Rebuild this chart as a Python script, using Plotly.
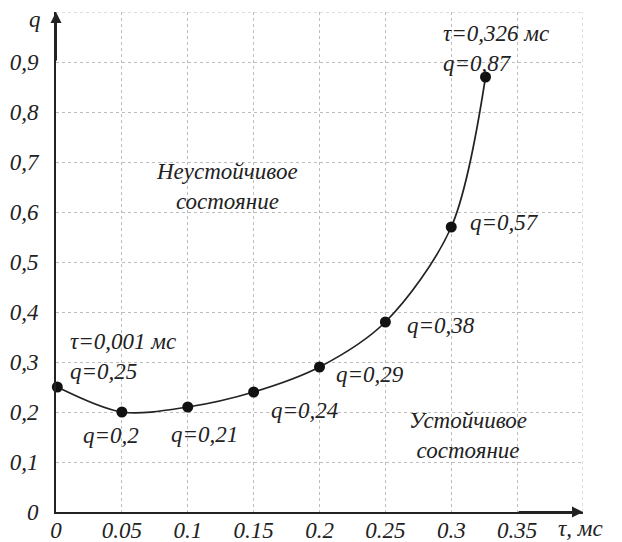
import plotly.graph_objects as go

# τ (мс) and q values of the stability boundary
tau = [0.001, 0.05, 0.1, 0.15, 0.2, 0.25, 0.3, 0.326]
q = [0.25, 0.2, 0.21, 0.24, 0.29, 0.38, 0.57, 0.87]

x_ticks = [0, 0.05, 0.1, 0.15, 0.2, 0.25, 0.3, 0.35]
x_tick_text = ["0", "0.05", "0.1", "0.15", "0.2", "0.25", "0.3", "0.35"]
y_ticks = [0, 0.1, 0.2, 0.3, 0.4, 0.5, 0.6, 0.7, 0.8, 0.9]
y_tick_text = ["0", "0,1", "0,2", "0,3", "0,4", "0,5", "0,6", "0,7", "0,8", "0,9"]

X_MAX = 0.4
Y_MAX = 1.0

FONT = "Liberation Serif"
INK = "#222222"
GRID = "#bdbdbd"
FS = 23


def fmt(v):
    return f"{v:g}".replace(".", ",")


fig = go.Figure()
fig.add_trace(go.Scatter(
    x=tau, y=q, mode="lines+markers",
    line=dict(shape="spline", smoothing=0.9, color=INK, width=1.7),
    marker=dict(size=11, color="#111111"),
    cliponaxis=False, hoverinfo="skip", showlegend=False,
))

# outer grid lines along the top and right edges of the grid
fig.add_shape(type="line", x0=0, x1=X_MAX, y0=Y_MAX, y1=Y_MAX, xref="x", yref="y",
              line=dict(color=GRID, width=1, dash="dot"), layer="below")
fig.add_shape(type="line", x0=X_MAX, x1=X_MAX, y0=0, y1=Y_MAX, xref="x", yref="y",
              line=dict(color=GRID, width=1, dash="dot"), layer="below")

ann_font = dict(family=FONT, size=FS, color=INK, style="italic")
annotations = []

# value labels beside the points: (index, xshift, yshift, anchor)
offsets = [
    (1, -11, -23, "center"),
    (2, 17, -27, "center"),
    (3, 15, -18, "left"),
    (4, 14, -7, "left"),
    (5, 20, -3, "left"),
    (6, 17, 5, "left"),
]
for i, dx, dy, anc in offsets:
    annotations.append(dict(
        x=tau[i], y=q[i], xref="x", yref="y", text=f"q={fmt(q[i])}",
        showarrow=False, xanchor=anc, yanchor="middle",
        xshift=dx, yshift=dy, font=ann_font,
    ))

# first and last points carry τ as well
annotations.append(dict(
    x=tau[0], y=q[0], xref="x", yref="y",
    text=f"τ={fmt(tau[0])} мс<br>q={fmt(q[0])}",
    showarrow=False, xanchor="left", yanchor="middle", align="left",
    xshift=11, yshift=31, font=ann_font,
))
annotations.append(dict(
    x=tau[-1], y=q[-1], xref="x", yref="y",
    text=f"τ={fmt(tau[-1])} мс<br>q={fmt(q[-1])}",
    showarrow=False, xanchor="left", yanchor="middle", align="left",
    xshift=-45, yshift=29, font=ann_font,
))

# region captions
annotations.append(dict(
    x=0.13, y=0.652, xref="x", yref="y", text="Неустойчивое<br>состояние",
    showarrow=False, xanchor="center", yanchor="middle", font=ann_font,
))
annotations.append(dict(
    x=0.313, y=0.153, xref="x", yref="y", text="Устойчивое<br>состояние",
    showarrow=False, xanchor="center", yanchor="middle", font=ann_font,
))

# axis titles
annotations.append(dict(
    x=0, y=Y_MAX, xref="x", yref="y", text="q", showarrow=False,
    xanchor="right", yanchor="middle", xshift=-13, yshift=-7, font=ann_font,
))
annotations.append(dict(
    x=X_MAX, y=0, xref="x", yref="y", text="τ, мс", showarrow=False,
    xanchor="right", yanchor="middle", xshift=22, yshift=-16, font=ann_font,
))

# arrowheads at the ends of the axes
annotations.append(dict(
    x=0, y=Y_MAX, ax=0, ay=0.9, xref="x", yref="y", axref="x", ayref="y",
    text="", showarrow=True, arrowhead=2, arrowsize=1.1, arrowwidth=2,
    arrowcolor=INK,
))
annotations.append(dict(
    x=X_MAX, y=0, ax=0.35, ay=0, xref="x", yref="y", axref="x", ayref="y",
    text="", showarrow=True, arrowhead=2, arrowsize=1.1, arrowwidth=2,
    arrowcolor=INK,
))

tick_font = dict(family=FONT, size=FS, color=INK, style="italic")
axis_style = dict(showgrid=True, gridcolor=GRID, griddash="dot", gridwidth=1,
                  zeroline=False, showline=True, linecolor=INK, linewidth=2,
                  ticks="", tickfont=tick_font, automargin=False)

fig.update_layout(
    width=622, height=542,
    margin=dict(l=56, r=39, t=12, b=30),
    paper_bgcolor="white", plot_bgcolor="white",
    xaxis=dict(range=[0, X_MAX], tickmode="array", tickvals=x_ticks,
               ticktext=x_tick_text, ticklabelstandoff=-4, **axis_style),
    yaxis=dict(range=[0, Y_MAX], tickmode="array", tickvals=y_ticks,
               ticktext=y_tick_text, ticklabelstandoff=11, **axis_style),
    annotations=annotations,
    showlegend=False,
)

fig.write_html("out.html", config={"displayModeBar": False})
